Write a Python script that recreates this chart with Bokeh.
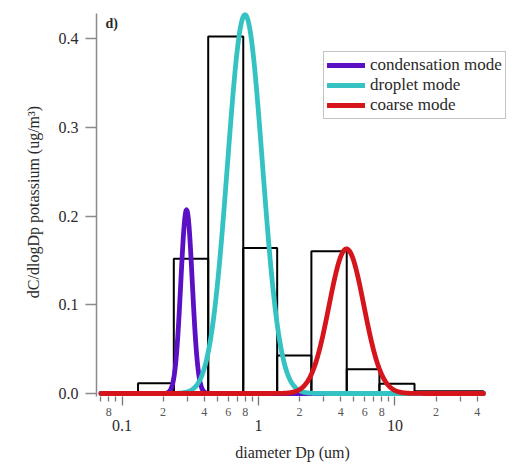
import numpy as np
from bokeh.plotting import figure
from bokeh.models import (LogAxis, FixedTicker, Range1d, Legend, LegendItem, Label,
                          ColumnDataSource, PrintfTickFormatter)
from bokeh.embed import file_html
from bokeh.resources import INLINE

# ---------------- data ----------------
# measured histogram: bin edges (um) and dC/dlogDp (ug/m3)
bin_left = [0.131, 0.2395, 0.428, 0.773, 1.37, 2.44, 4.43, 7.69, 13.9]
bin_right = [0.2395, 0.428, 0.773, 1.37, 2.44, 4.43, 7.69, 13.9, 44.5]
bin_value = [0.0116, 0.152, 0.4025, 0.164, 0.0428, 0.1604, 0.0274, 0.011, 0.0026]

# fitted log-normal modes
mode_names = ["condensation mode", "droplet mode", "coarse mode"]
mode_center_um = [0.297, 0.796, 4.41]      # peak diameter
mode_peak = [0.207, 0.427, 0.163]          # peak height
mode_width_dec = [0.042, 0.128, 0.128]     # std. dev. in log10(Dp)
mode_colors = ["#5c10c4", "#34c2c2", "#d5141c"]
dp_min, dp_max = 0.07, 44.5

# tick labels
y_ticks = [0.0, 0.1, 0.2, 0.3, 0.4]
decade_ticks = [0.1, 1, 10]
decade_labels = ["0.1", "1", "10"]
labeled_minor_ticks = [0.08, 0.2, 0.4, 0.6, 0.8, 2, 4, 6, 8, 20, 40]
labeled_minor_labels = ["8", "2", "4", "6", "8", "2", "4", "6", "8", "2", "4"]
all_minor_ticks = [0.07, 0.08, 0.09, 0.2, 0.3, 0.4, 0.5, 0.6, 0.7, 0.8, 0.9,
                   2, 3, 4, 5, 6, 7, 8, 9, 20, 30, 40]

SERIF = "Liberation Serif"
TXT = "#2a2a2a"
AX = "#8a8a8a"

p = figure(width=518, height=466, x_axis_type="log",
           x_range=Range1d(0.065, 72.6), y_range=Range1d(-0.0034, 0.4352),
           x_axis_location=None, output_backend="svg", toolbar_location=None,
           min_border_left=96, min_border_right=6, min_border_top=7,
           min_border_bottom=70)
p.outline_line_color = None
p.grid.visible = False
p.background_fill_color = "white"
p.border_fill_color = "white"

# histogram (outlined bars)
hist = ColumnDataSource(dict(left=bin_left, right=bin_right,
                             top=bin_value, bottom=[0] * len(bin_value)))
p.quad(left="left", right="right", top="top", bottom="bottom", source=hist,
       fill_color=None, line_color="black", line_width=2)

# modes
dp = np.logspace(np.log10(dp_min), np.log10(dp_max), 800)
renderers = []
for c, h, s, col in zip(mode_center_um, mode_peak, mode_width_dec, mode_colors):
    y = h * np.exp(-(np.log10(dp) - np.log10(c)) ** 2 / (2 * s ** 2))
    r = p.line(dp, y, line_color=col, line_width=4.8, line_cap="round",
               line_join="round")
    renderers.append(r)

# y axis
ya = p.yaxis[0]
ya.ticker = FixedTicker(ticks=y_ticks, minor_ticks=[])
ya.formatter = PrintfTickFormatter(format="%.1f")
ya.bounds = (-0.0034, 0.428)
ya.axis_line_color = AX
ya.axis_line_width = 1.5
ya.major_tick_line_color = AX
ya.major_tick_line_width = 1.5
ya.major_tick_out = 11
ya.major_tick_in = 0
ya.minor_tick_line_color = None
ya.major_label_standoff = 7
ya.major_label_text_font = SERIF
ya.major_label_text_font_size = "16px"
ya.major_label_text_color = TXT
ya.axis_label = "dC/dlogDp potassium (ug/m\u00b3)"
ya.axis_label_text_font = SERIF
ya.axis_label_text_font_size = "16px"
ya.axis_label_text_font_style = "normal"
ya.axis_label_text_color = TXT
ya.axis_label_standoff = 14

# x axis: ticks only
axA = LogAxis(ticker=FixedTicker(ticks=decade_ticks, minor_ticks=all_minor_ticks),
              axis_line_color=None, major_tick_out=9, major_tick_in=0,
              minor_tick_out=5, minor_tick_in=0,
              major_tick_line_color="#777777", minor_tick_line_color="#777777",
              major_tick_line_width=1.3, minor_tick_line_width=1.3,
              major_label_text_font_size="1px", major_label_text_color=None,
              major_label_standoff=0)
# x axis: small labels
axB = LogAxis(ticker=FixedTicker(ticks=labeled_minor_ticks, minor_ticks=[]),
              axis_line_color=None, major_tick_out=0, major_tick_in=0,
              major_tick_line_color=None, minor_tick_line_color=None,
              major_label_overrides=dict(zip(labeled_minor_ticks, labeled_minor_labels)),
              major_label_text_font=SERIF, major_label_text_font_size="12px",
              major_label_text_color="#555555", major_label_standoff=2)
# x axis: decade labels + title
axC = LogAxis(ticker=FixedTicker(ticks=decade_ticks, minor_ticks=[]),
              axis_line_color=None, major_tick_out=0, major_tick_in=0,
              major_tick_line_color=None, minor_tick_line_color=None,
              major_label_overrides=dict(zip(decade_ticks, decade_labels)),
              major_label_text_font=SERIF, major_label_text_font_size="16px",
              major_label_text_color=TXT, major_label_standoff=1,
              axis_label="diameter Dp (um)" + "\u00a0" * 6, axis_label_text_font=SERIF,
              axis_label_text_font_size="16px", axis_label_text_font_style="normal",
              axis_label_text_color=TXT, axis_label_standoff=10)
p.add_layout(axA, "below")
p.add_layout(axB, "below")
p.add_layout(axC, "below")

# panel tag
p.add_layout(Label(x=9, y=373, x_units="screen", y_units="screen", text="d)",
                   text_font=SERIF, text_font_size="14px", text_color=TXT,
                   text_font_style="bold", text_baseline="middle"))

legend = Legend(items=[LegendItem(label=n, renderers=[r]) for n, r in zip(mode_names, renderers)],
                location=(227, 277), orientation="vertical",
                border_line_color=AX, border_line_width=1.5,
                background_fill_color="white", background_fill_alpha=1,
                label_text_font=SERIF, label_text_font_size="17px",
                label_text_color=TXT, label_height=20, glyph_height=20,
                glyph_width=38, label_standoff=5, spacing=0, padding=3, margin=0)
p.add_layout(legend, "center")

open("out.html", "w").write(file_html(p, INLINE))
